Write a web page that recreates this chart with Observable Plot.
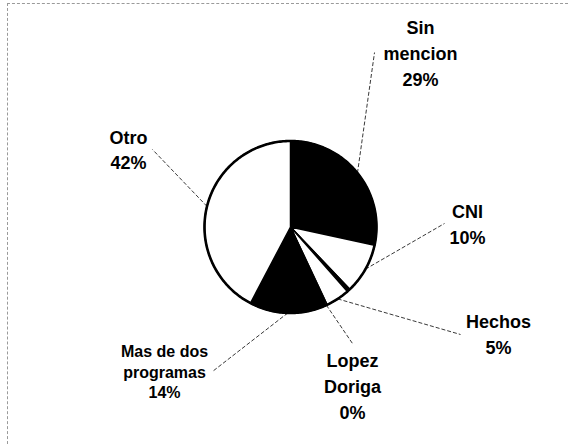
<!DOCTYPE html>
<html>
<head>
<meta charset="utf-8">
<script src="https://cdn.jsdelivr.net/npm/d3@7"></script>
<script src="https://cdn.jsdelivr.net/npm/@observablehq/plot@0.6"></script>
<style>
  body { margin: 0; background: #fff; }
  #wrap { position: relative; width: 568px; height: 444px; overflow: hidden; }
  #frame { position: absolute; left: 7px; top: 3px; width: 570px; height: 450px;
           border-left: 1px dashed #9a9a9a; border-top: 1px dashed #9a9a9a; pointer-events: none; }
</style>
</head>
<body>
<div id="wrap"><div id="chart"></div><div id="frame"></div></div>
<script>
// ---- data ----
const categories = ["Sin mencion", "CNI", "(sin etiqueta)", "Hechos", "Lopez Doriga", "Mas de dos programas", "Otro"];
const values = [28.4, 9.5, 0.6, 4.5, 0.3, 14.4, 42.3];
const nameLabels = ["Sin\nmencion", "CNI", "", "Hechos", "Lopez\nDoriga", "Mas de dos\nprogramas", "Otro"];
const percentLabels = ["29%", "10%", "", "5%", "0%", "14%", "42%"];

// ---- style / layout ----
const sliceFills = ["#000", "#fff", "#000", "#fff", "#fff", "#000", "#fff"];
// label block (centre x, last baseline y) and leader end, in pie radii from the centre
const labelLayout = [
  {tx: 1.512, ty: 1.645, lx: 0.977, ly: 2.029},
  {tx: 2.058, ty: -0.192, lx: 1.791, ly: 0.041},
  null,
  {tx: 2.419, ty: -1.471, lx: 1.977, ly: -1.250},
  {tx: 0.721, ty: -2.227, lx: 0.721, ly: -1.355},
  {tx: -1.465, ty: -1.994, lx: -0.907, ly: -1.680},
  {tx: -1.884, ty: 0.669, lx: -1.605, ly: 0.901}
];

const rows = categories.map((c, i) => ({category: c, value: values[i], fill: sliceFills[i], i}));
const arcs = d3.pie().sort(null).value(d => d.value)(rows);

// slice polygons
const slicePts = [];
arcs.forEach(a => {
  const key = a.data.category;
  slicePts.push({key, fill: a.data.fill, x: 0, y: 0});
  const steps = Math.max(2, Math.ceil((a.endAngle - a.startAngle) / (Math.PI / 180)));
  for (let k = 0; k <= steps; k++) {
    const t = a.startAngle + (a.endAngle - a.startAngle) * k / steps;
    slicePts.push({key, fill: a.data.fill, x: Math.sin(t), y: Math.cos(t)});
  }
  slicePts.push({key, fill: a.data.fill, x: 0, y: 0});
});
const circlePts = d3.range(0, 361).map(d => ({x: Math.sin(d * Math.PI / 180), y: Math.cos(d * Math.PI / 180)}));

// labels and leaders
const labels = [];
arcs.forEach((a, i) => {
  const L = labelLayout[i];
  if (!L) return;
  const m = (a.startAngle + a.endAngle) / 2;
  labels.push({
    category: a.data.category,
    text: nameLabels[i] + "\n" + percentLabels[i],
    tx: L.tx, ty: L.ty,
    x1: Math.sin(m), y1: Math.cos(m), x2: L.lx, y2: L.ly
  });
});

const font = "'Liberation Sans', Arial, Helvetica, sans-serif";
const chart = Plot.plot({
  width: 568,
  height: 444,
  x: {domain: [-1, 1], range: [204, 376], axis: null},
  y: {domain: [-1, 1], range: [312.5, 140.5], axis: null},
  color: {type: "identity"},
  style: {background: "white", overflow: "visible", fontFamily: font},
  marks: [
    Plot.link(labels, {x1: "x1", y1: "y1", x2: "x2", y2: "y2", stroke: "#222", strokeWidth: 0.9, strokeDasharray: "4,2"}),
    Plot.line(slicePts, {x: "x", y: "y", z: "key", fill: "fill", stroke: "#000", strokeWidth: 1.5, strokeLinejoin: "round"}),
    Plot.line(circlePts, {x: "x", y: "y", stroke: "#000", strokeWidth: 2.6}),
    Plot.text(labels.filter(d => d.category !== "Mas de dos programas"), {
      x: "tx", y: "ty", text: "text", lineAnchor: "bottom", lineHeight: 1.42,
      fontSize: 18, fontWeight: "bold", fill: "#000", fontFamily: font
    }),
    Plot.text(labels.filter(d => d.category === "Mas de dos programas"), {
      x: "tx", y: "ty", text: "text", lineAnchor: "bottom", lineHeight: 1.31,
      fontSize: 16, fontWeight: "bold", fill: "#000", fontFamily: font
    })
  ]
});
document.getElementById("chart").appendChild(chart);
</script>
</body>
</html>
